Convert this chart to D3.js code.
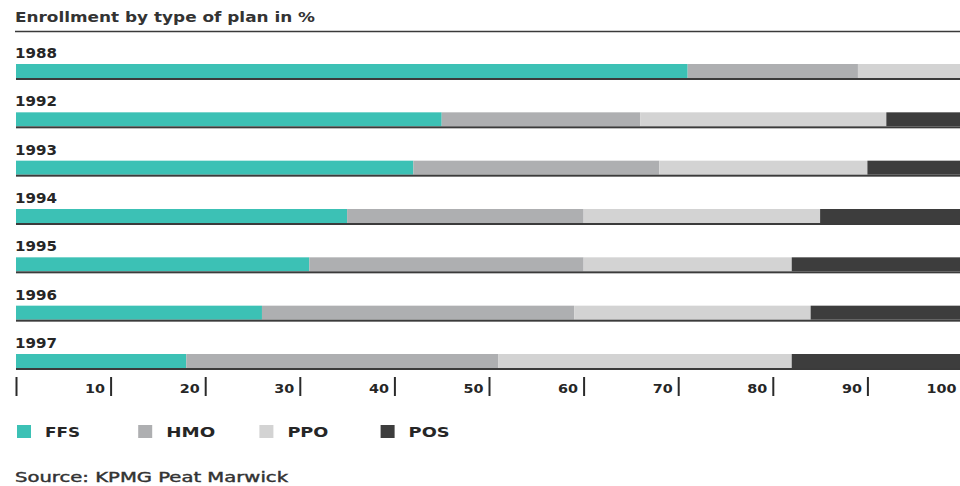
<!DOCTYPE html>
<html>
<head>
<meta charset="utf-8">
<script src="https://cdn.jsdelivr.net/npm/d3@7"></script>
<style>
  html, body { margin: 0; padding: 0; background: #fff; }
  svg { display: block; }
  text { font-family: "DejaVu Sans", "Liberation Sans", sans-serif; fill: #262626; }
</style>
</head>
<body>
<svg id="chart" width="960" height="486"></svg>
<script>
// Enrollment shares (%) by plan type, KPMG Peat Marwick survey
const years = ["1988", "1992", "1993", "1994", "1995", "1996", "1997"];
const ffs = [71, 45, 42, 35, 31, 26, 18];
const hmo = [18, 21, 26, 25, 29, 33, 33];
const ppo = [11, 26, 22, 25, 22, 25, 31];
const pos = [0, 8, 10, 15, 18, 16, 18];
const planNames = ["FFS", "HMO", "PPO", "POS"];
const tickValues = [0, 10, 20, 30, 40, 50, 60, 70, 80, 90, 100];

const title = "Enrollment by type of plan in %";
const source = "Source: KPMG Peat Marwick";

const colors = d3.scaleOrdinal()
  .domain(planNames)
  .range(["#3cc1b5", "#aeafb1", "#d3d3d3", "#3d3d3d"]);

const W = 960, H = 486;
const svg = d3.select("#chart");

const x = d3.scaleLinear().domain([0, 100]).range([16, 962]);
const y = d3.scalePoint().domain(years).range([64, 354]);
const barH = 14;

// title and rule under it
svg.append("text")
  .attr("x", 15).attr("y", 22)
  .attr("font-size", 13.5)
  .attr("font-weight", 600)
  .attr("textLength", 300)
  .attr("lengthAdjust", "spacingAndGlyphs")
  .style("fill", "#333")
  .text(title);

svg.append("line")
  .attr("x1", 15).attr("x2", W)
  .attr("y1", 31.5).attr("y2", 31.5)
  .attr("stroke", "#3a3a3a").attr("stroke-width", 1.6);

// stacked rows
const rows = years.map((yr, i) => {
  const vals = [ffs[i], hmo[i], ppo[i], pos[i]];
  let acc = 0;
  return {
    year: yr,
    segs: vals.map((v, k) => {
      const s = { key: planNames[k], x0: acc, x1: acc + v };
      acc += v;
      return s;
    })
  };
});

const row = svg.selectAll("g.row").data(rows).join("g").attr("class", "row")
  .attr("transform", d => `translate(0,${y(d.year)})`);

row.append("text")
  .attr("x", 15).attr("y", -6)
  .attr("font-size", 13.5)
  .attr("font-weight", "bold")
  .attr("textLength", 42)
  .attr("lengthAdjust", "spacingAndGlyphs")
  .text(d => d.year);

row.selectAll("rect.seg").data(d => d.segs.filter(s => s.x1 > s.x0)).join("rect")
  .attr("class", "seg")
  .attr("x", s => x(s.x0))
  .attr("width", s => x(s.x1) - x(s.x0))
  .attr("y", 0)
  .attr("height", barH)
  .attr("fill", s => colors(s.key));

// dark base line under each bar
row.append("rect")
  .attr("x", x(0)).attr("width", W - x(0))
  .attr("y", barH).attr("height", 2)
  .attr("fill", "#3b3b3b");

// axis with ticks hanging below the last bar, labels to the left of each tick
const axis = d3.axisBottom(x)
  .tickValues(tickValues)
  .tickSize(19)
  .tickFormat(d => d === 0 ? "" : d);

const ax = svg.append("g")
  .attr("transform", "translate(0,377)")
  .call(axis);
ax.select(".domain").remove();
ax.selectAll(".tick line").attr("stroke", "#2a2a2a").attr("stroke-width", 2);
ax.selectAll(".tick text")
  .attr("x", -6).attr("y", 16).attr("dy", null)
  .attr("text-anchor", "end")
  .attr("font-family", "DejaVu Sans, sans-serif")
  .attr("font-size", 13)
  .attr("font-weight", "bold")
  .attr("textLength", d => d === 0 ? null : String(d).length * 10)
  .attr("lengthAdjust", "spacingAndGlyphs")
  .style("fill", "#262626");

// legend
const legendWidths = [35, 49, 41, 41];
const lg = svg.append("g").attr("transform", "translate(17,425)");
const item = lg.selectAll("g").data(planNames).join("g")
  .attr("transform", (d, i) => `translate(${i * 121.2},0)`);
item.append("rect")
  .attr("width", 14).attr("height", 13)
  .attr("fill", d => colors(d));
item.append("text")
  .attr("x", 28).attr("y", 12)
  .attr("font-size", 13.5)
  .attr("font-weight", "bold")
  .attr("textLength", (d, i) => legendWidths[i])
  .attr("lengthAdjust", "spacingAndGlyphs")
  .text(d => d);

// source note, medium weight via a thin outline
svg.append("text")
  .attr("x", 15).attr("y", 482)
  .attr("font-size", 13.5)
  .attr("font-weight", "normal")
  .attr("textLength", 273)
  .attr("lengthAdjust", "spacingAndGlyphs")
  .style("fill", "#333")
  .style("stroke", "#333")
  .style("stroke-width", 0.4)
  .text(source);
</script>
</body>
</html>
